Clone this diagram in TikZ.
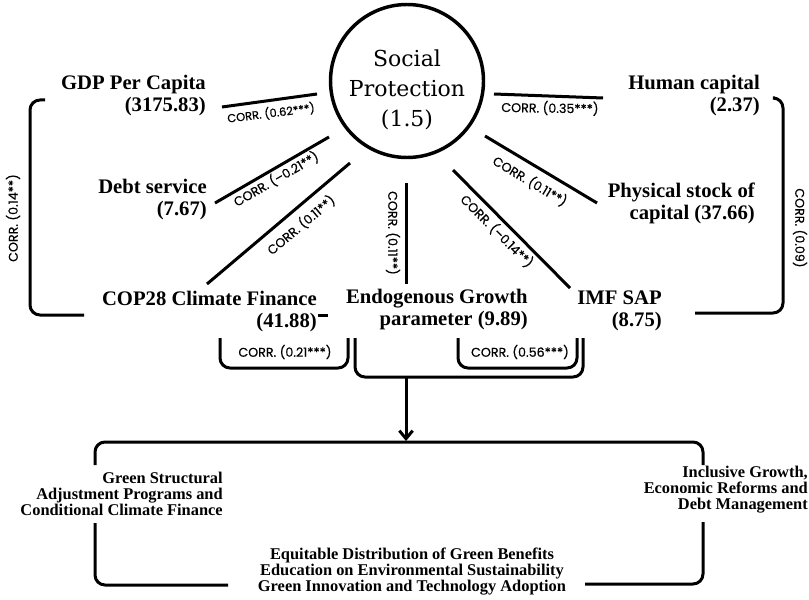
\documentclass[tikz,border=0pt]{standalone}
\usepackage{fontspec}
\newfontfamily\tnr{Liberation Serif}
\newfontfamily\pop{Poppins}[FakeBold=0.5]
\newfontfamily\spfont{DejaVu Serif}
\usetikzlibrary{arrows.meta}
\begin{document}
\begin{tikzpicture}[x=0.75pt,y=-0.75pt,
  lbl/.style={font=\tnr\bfseries\fontsize{15.5}{16.5}\selectfont, align=right, anchor=east, inner sep=0pt},
  blbl/.style={font=\tnr\bfseries\fontsize{12.3}{12}\selectfont, inner sep=0pt},
  corr/.style={font=\pop\fontsize{9.5}{10}\selectfont, inner sep=0pt},
  spoke/.style={line width=2.25pt},
  brk/.style={line width=2.25pt, rounded corners=7.5pt}]
\useasboundingbox (0,0) rectangle (809,599);

% central circle
\node[circle, draw, line width=2.6pt, minimum size=114.75pt, inner sep=0pt] (sp) at (407,81) {};
\node[align=center, inner sep=0pt, font=\spfont\fontsize{16.5}{22.5}\selectfont] (sptext) at (407,90) {Social\\Protection\\(1.5)};

% variable labels
\node[lbl] (gdp) at (206,96) {GDP Per Capita\\(3175.83)};
\node[lbl] (debt) at (207,200) {Debt service\\(7.67)};
\node[lbl] (cop) at (317,312) {COP28 Climate Finance\\(41.88)};
\node[lbl] (endo) at (528,310) {Endogenous Growth\\parameter (9.89)};
\node[lbl] (imf) at (662,311) {IMF SAP\\(8.75)};
\node[lbl] (human) at (760,96) {Human capital\\(2.37)};
\node[lbl] (phys) at (755,203) {Physical stock of\\capital (37.66)};

% bottom labels
\node[blbl, align=right, anchor=east] (gsap) at (223,494) {Green Structural\\Adjustment Programs and\\Conditional Climate Finance};
\node[blbl, align=right, anchor=east] (incl) at (808,490) {Inclusive Growth,\\Economic Reforms and\\Debt Management};
\node[blbl, align=center] (equit) at (412,572) {Equitable Distribution of Green Benefits\\Education on Environmental Sustainability\\Green Innovation and Technology Adoption};

% spoke end points
\coordinate (g1) at (222,107); \coordinate (g2) at (317,94);
\coordinate (h1) at (494,94);  \coordinate (h2) at (603,98);
\coordinate (d1) at (329,137); \coordinate (d2) at (215,203);
\coordinate (c1) at (350,163); \coordinate (c2) at (207,284);
\coordinate (e1) at (406,183); \coordinate (e2) at (406,284);
\coordinate (i1) at (453,170); \coordinate (i2) at (570,288);
\coordinate (p1) at (485,136); \coordinate (p2) at (597,203);

\draw[spoke] (g1) -- (g2);
\draw[spoke] (h1) -- (h2);
\draw[spoke] (d1) -- (d2);
\draw[spoke] (c1) -- (c2);
\draw[spoke] (e1) -- (e2);
\draw[spoke] (i1) -- (i2);
\draw[spoke] (p1) -- (p2);
\coordinate (r1) at (318,315); \coordinate (r2) at (328,315);
\draw[spoke] (r1) -- (r2);

% spoke labels
\node[corr, rotate=7, font=\pop\fontsize{8.6}{9}\selectfont] (l062) at (271,113) {CORR. (0.62***)};
\node[corr, rotate=-1] (l035) at (550,108) {CORR. (0.35***)};
\node[corr, rotate=30] (l021) at (276,179) {CORR. (–0.21**)};
\node[corr, rotate=40] (l011c) at (301,225) {CORR. (0.11**)};
\node[corr, rotate=-90] (l011e) at (393,233) {CORR. (0.11**)};
\node[corr, rotate=-45] (l014i) at (497,231) {CORR. (–0.14**)};
\node[corr, rotate=-31] (l011p) at (530,181) {CORR. (0.11**)};
\node[corr, rotate=90] (l014) at (13,218) {CORR. (0.14**)};
\node[corr, rotate=-90] (l009) at (800,228) {CORR. (0.09)};
\node[corr] (l021b) at (285,352) {CORR. (0.21***)};
\node[corr] (l056) at (520,352) {CORR. (0.56***)};

% side brackets
\coordinate (lb1) at (45,100); \coordinate (lb2) at (30,100); \coordinate (lb3) at (30,315); \coordinate (lb4) at (84,315);
\draw[brk] (lb1) -- (lb2) -- (lb3) -- (lb4);
\coordinate (rb1) at (775,98); \coordinate (rb2) at (783,98); \coordinate (rb3) at (783,313); \coordinate (rb4) at (695,313);
\draw[brk] (rb1) -- (rb2) -- (rb3) -- (rb4);

% lower brackets
\coordinate (a1) at (220,338); \coordinate (a2) at (220,368); \coordinate (a3) at (348,368); \coordinate (a4) at (348,338);
\draw[brk] (a1) -- (a2) -- (a3) -- (a4);
\coordinate (b1) at (458,338); \coordinate (b2) at (458,368); \coordinate (b3) at (577,368); \coordinate (b4) at (577,338);
\draw[brk] (b1) -- (b2) -- (b3) -- (b4);
\coordinate (k1) at (355,338); \coordinate (k2) at (355,377); \coordinate (k3) at (583,377); \coordinate (k4) at (583,338);
\draw[brk] (k1) -- (k2) -- (k3) -- (k4);

% arrow to outcome frame
\coordinate (ar1) at (406,377); \coordinate (ar2) at (406,441);
\draw[line width=2.25pt, -{Straight Barb[length=6pt,width=10pt]}] (ar1) -- (ar2);

% outcome frame
\coordinate (f1) at (95,465); \coordinate (f2) at (95,442); \coordinate (f3) at (703,442); \coordinate (f4) at (703,465);
\draw[brk] (f1) -- (f2) -- (f3) -- (f4);
\coordinate (f5) at (95,523); \coordinate (f6) at (95,585); \coordinate (f7) at (228,585);
\draw[brk] (f5) -- (f6) -- (f7);
\coordinate (f8) at (585,584); \coordinate (f9) at (703,584); \coordinate (f10) at (703,522);
\draw[brk] (f8) -- (f9) -- (f10);
\end{tikzpicture}
\end{document}
